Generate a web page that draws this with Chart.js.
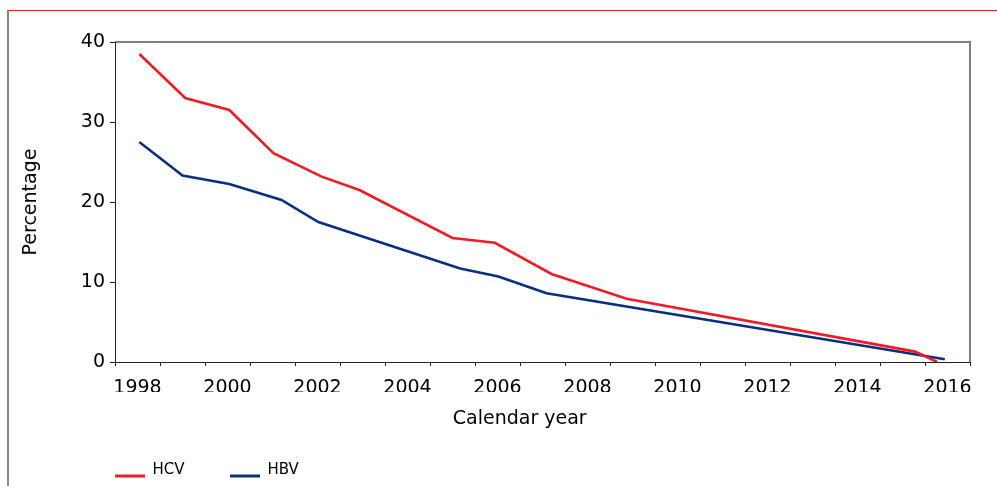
<!DOCTYPE html>
<html>
<head>
<meta charset="utf-8">
<script src="https://cdn.jsdelivr.net/npm/chart.js@4"></script>
<style>
  html, body { margin: 0; padding: 0; background: #fff; }
  #wrap { position: relative; width: 997px; height: 486px; }
  #frame {
    position: absolute; left: 7px; top: 10px; right: 0; bottom: 0;
    border-top: 1px solid #ec1c24; border-left: 2px solid #888;
    pointer-events: none;
  }
</style>
</head>
<body>
<div id="wrap">
  <canvas id="chart" width="997" height="486"></canvas>
  <div id="frame"></div>
</div>
<script>
// values (x is calendar year, y is percentage)
const hcvYears  = [1998.04, 1999.06, 2000.04, 2001.02, 2002.08, 2002.93, 2005.0, 2005.94, 2007.2, 2008.87, 2015.28, 2015.77];
const hcvValues = [38.5, 33.0, 31.5, 26.1, 23.2, 21.5, 15.5, 14.9, 11.0, 7.9, 1.3, 0.0];

const hbvYears  = [1998.04, 1999.0, 2000.04, 2001.2, 2002.02, 2005.17, 2006.02, 2007.09, 2015.94];
const hbvValues = [27.5, 23.3, 22.25, 20.25, 17.5, 11.7, 10.7, 8.6, 0.35];

const yearTicks = [1998, 1999, 2000, 2001, 2002, 2003, 2004, 2005, 2006, 2007,
                   2008, 2009, 2010, 2011, 2012, 2013, 2014, 2015, 2016];
const yearLabels = [1998, 2000, 2002, 2004, 2006, 2008, 2010, 2012, 2014, 2016];

const RED = '#ee1c25';
const BLUE = '#0a2f7e';
const FONT = 'DejaVu Sans';

function toPoints(xs, ys) {
  return xs.map((x, i) => ({ x: x, y: ys[i] }));
}

// legend symbol: a short line sitting at the text baseline
function legendLine(color) {
  const c = document.createElement('canvas');
  c.width = 30;
  c.height = 30;
  const g = c.getContext('2d');
  g.strokeStyle = color;
  g.lineWidth = 3;
  g.beginPath();
  g.moveTo(0, 20.5);
  g.lineTo(30, 20.5);
  g.stroke();
  return c;
}

// grey top and right edges of the plot box
const plotFrame = {
  id: 'plotFrame',
  beforeDraw(chart) {
    const { ctx, chartArea: a } = chart;
    ctx.save();
    ctx.strokeStyle = '#808080';
    ctx.lineWidth = 2;
    ctx.beginPath();
    ctx.moveTo(a.left, a.top);
    ctx.lineTo(a.right, a.top);
    ctx.lineTo(a.right, a.bottom);
    ctx.stroke();
    ctx.restore();
  }
};

new Chart(document.getElementById('chart'), {
  type: 'line',
  data: {
    datasets: [
      {
        label: 'HCV',
        data: toPoints(hcvYears, hcvValues),
        borderColor: RED,
        backgroundColor: RED,
        borderWidth: 2.6,
        pointRadius: 0,
        pointStyle: legendLine(RED),
        tension: 0
      },
      {
        label: 'HBV',
        data: toPoints(hbvYears, hbvValues),
        borderColor: BLUE,
        backgroundColor: BLUE,
        borderWidth: 2.6,
        pointRadius: 0,
        pointStyle: legendLine(BLUE),
        tension: 0
      }
    ]
  },
  options: {
    responsive: false,
    animation: false,
    layout: { padding: { left: 69.5, right: 27, top: 42, bottom: -2 } },
    scales: {
      x: {
        type: 'linear',
        min: 1997.5,
        max: 2016.5,
        afterBuildTicks: (scale) => {
          scale.ticks = yearTicks.map(v => ({ value: v }));
        },
        afterFit: (scale) => { scale.height = 30; },
        ticks: {
          autoSkip: false,
          maxRotation: 0,
          minRotation: 0,
          padding: 11,
          color: '#000',
          font: { family: FONT, size: 19 },
          callback: (v) => yearLabels.includes(v) ? String(v) : ''
        },
        grid: { offset: true, drawOnChartArea: false, tickLength: 4, color: '#222' },
        border: { color: '#222', width: 1 }
      },
      y: {
        min: 0,
        max: 40,
        afterFit: (scale) => { scale.width = 45.5; },
        ticks: {
          stepSize: 10,
          padding: 5,
          color: '#000',
          font: { family: FONT, size: 19 }
        },
        grid: { drawOnChartArea: false, tickLength: 5, color: '#222' },
        border: { color: '#222', width: 1 },
        title: {
          display: true,
          text: 'Percentage',
          color: '#000',
          font: { family: FONT, size: 19 },
          padding: { top: -50, bottom: 0 }
        }
      }
    },
    plugins: {
      tooltip: { enabled: false },
      title: {
        display: true,
        text: 'Calendar year',
        position: 'bottom',
        weight: 10,
        color: '#000',
        font: { family: FONT, size: 19, weight: 'normal' },
        padding: { top: 16, bottom: -13.3 }
      },
      legend: {
        position: 'bottom',
        align: 'start',
        labels: {
          usePointStyle: true,
          pointStyleWidth: 30,
          padding: 45.5,
          color: '#000',
          font: { family: FONT, size: 15 }
        }
      }
    }
  },
  plugins: [plotFrame]
});
</script>
</body>
</html>
